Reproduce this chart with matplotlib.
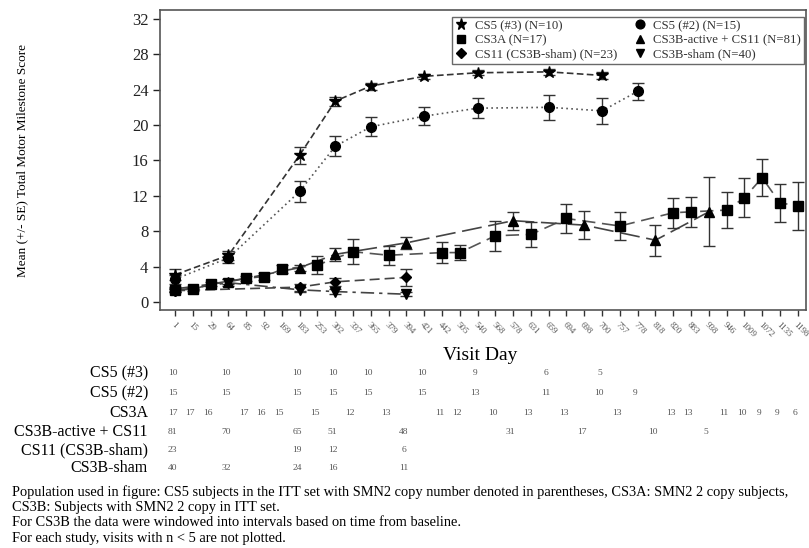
import numpy as np
import matplotlib
matplotlib.use("Agg")
import matplotlib.pyplot as plt
from matplotlib.lines import Line2D

plt.rcParams['font.family'] = ['Liberation Serif', 'DejaVu Serif']

visit_days = [1, 15, 29, 64, 85, 92, 169, 183, 253, 302, 337, 365, 379, 394, 421,
              442, 505, 540, 568, 578, 631, 659, 694, 698, 700, 757, 778, 818, 820,
              883, 938, 946, 1009, 1072, 1135, 1198]

# CS5 (#3)
cs5_3_days = [1, 64, 183, 302, 365, 421, 540, 659, 700]
cs5_3_mean = [3.1, 5.3, 16.6, 22.7, 24.4, 25.5, 25.9, 26.0, 25.6]
cs5_3_se = [0.6, 0.5, 0.95, 0.5, 0.4, 0.3, 0.3, 0.3, 0.4]
cs5_3_n = [10, 10, 10, 10, 10, 10, 9, 6, 5]

# CS5 (#2)
cs5_2_days = [1, 64, 183, 302, 365, 421, 540, 659, 700, 778]
cs5_2_mean = [2.6, 5.0, 12.5, 17.6, 19.8, 21.0, 21.9, 22.0, 21.6, 23.8]
cs5_2_se = [0.5, 0.55, 1.15, 1.15, 1.05, 1.0, 1.15, 1.4, 1.5, 1.0]
cs5_2_n = [15, 15, 15, 15, 15, 15, 13, 11, 10, 9]

# CS3A
cs3a_days = [1, 15, 29, 85, 92, 169, 253, 337, 379, 442, 505, 568, 631, 694,
             757, 820, 883, 946, 1009, 1072, 1135, 1198]
cs3a_mean = [1.4, 1.45, 2.05, 2.7, 2.9, 3.7, 4.2, 5.7, 5.3, 5.6, 5.6, 7.5, 7.65,
             9.45, 8.6, 10.1, 10.2, 10.4, 11.8, 14.05, 11.2, 10.9]
cs3a_se = [0.2, 0.2, 0.25, 0.3, 0.4, 0.45, 1.05, 1.4, 1.05, 1.2, 0.85, 1.7, 1.45,
           1.6, 1.6, 1.7, 1.7, 2.0, 2.2, 2.1, 2.1, 2.7]
cs3a_n = [17, 17, 16, 17, 16, 15, 15, 12, 13, 11, 12, 10, 13, 13, 13, 13, 13, 11,
          10, 9, 9, 6]

# CS3B-active + CS11
cs3b_act_days = [1, 64, 183, 302, 394, 578, 698, 818, 938]
cs3b_act_mean = [1.5, 2.3, 3.9, 5.4, 6.7, 9.2, 8.7, 7.0, 10.2]
cs3b_act_se = [0.2, 0.3, 0.35, 0.7, 0.7, 1.0, 1.6, 1.75, 3.9]
cs3b_act_n = [81, 70, 65, 51, 48, 31, 17, 10, 5]

# CS11 (CS3B-sham)
cs11_days = [1, 183, 302, 394]
cs11_mean = [1.3, 1.7, 2.3, 2.8]
cs11_se = [0.2, 0.4, 0.45, 1.0]
cs11_n = [23, 19, 12, 6]

# CS3B-sham
cs3b_sham_days = [1, 64, 183, 302, 394]
cs3b_sham_mean = [1.3, 2.2, 1.4, 1.2, 0.9]
cs3b_sham_se = [0.2, 0.4, 0.3, 0.3, 0.2]
cs3b_sham_n = [40, 32, 24, 16, 11]

series = [
    ("CS5 (#3)", "CS5 (#3) (N=10)", cs5_3_days, cs5_3_mean, cs5_3_se, cs5_3_n, '*', 9, (0, (4, 2)), '#333333'),
    ("CS5 (#2)", "CS5 (#2) (N=15)", cs5_2_days, cs5_2_mean, cs5_2_se, cs5_2_n, 'o', 7, (0, (1, 2)), '#555555'),
    ("CS3A", "CS3A (N=17)", cs3a_days, cs3a_mean, cs3a_se, cs3a_n, 's', 7, (0, (8, 4)), '#555555'),
    ("CS3B-active + CS11", "CS3B-active + CS11 (N=81)", cs3b_act_days, cs3b_act_mean, cs3b_act_se, cs3b_act_n, '^', 6.5, (0, (12, 4)), '#444444'),
    ("CS11 (CS3B-sham)", "CS11 (CS3B-sham) (N=23)", cs11_days, cs11_mean, cs11_se, cs11_n, 'D', 5.5, (0, (6, 3)), '#444444'),
    ("CS3B-sham", "CS3B-sham (N=40)", cs3b_sham_days, cs3b_sham_mean, cs3b_sham_se, cs3b_sham_n, 'v', 6.5, (0, (8, 3, 2, 3)), '#444444'),
]

fig = plt.figure(figsize=(8.09, 5.48), dpi=100)
ax = fig.add_axes([0.198, 0.434, 0.798, 0.548])

handles = {}
for name, lab, days, mean, se, n, mk, ms, ls, col in series:
    xi = [visit_days.index(d) for d in days]
    ax.plot(xi, mean, linestyle=ls, color=col, lw=1.2, zorder=2)
    ax.errorbar(xi, mean, yerr=se, fmt='none', ecolor='#333333', elinewidth=1.0,
                capsize=4.5, capthick=1.0, zorder=3)
    ax.plot(xi, mean, linestyle='none', marker=mk, ms=ms, color='black', zorder=4)
    handles[lab] = Line2D([], [], linestyle='none', marker=mk, ms=ms * 0.9, color='black')

ax.set_xlim(-0.84, 35.45)
ax.set_ylim(-0.9, 33.0)
ax.set_yticks(np.arange(0, 33, 4))
ax.set_xticks(np.arange(len(visit_days)))
ax.set_xticklabels([str(d) for d in visit_days], rotation=-45, ha='left',
                   rotation_mode='anchor', fontsize=6.5, color='#555555')
ax.tick_params(axis='y', labelsize=12, length=5, width=1, colors='#222222')
ax.tick_params(axis='x', length=4, width=1, colors='#333333', labelcolor='#555555')
for s in ax.spines.values():
    s.set_color('#555555')
    s.set_linewidth(1.2)
ax.set_ylabel("Mean (+/- SE) Total Motor Milestone Score", fontsize=9.5)
ax.yaxis.set_label_coords(-0.205, 0.5)

order = ["CS5 (#3) (N=10)", "CS3A (N=17)", "CS11 (CS3B-sham) (N=23)",
         "CS5 (#2) (N=15)", "CS3B-active + CS11 (N=81)", "CS3B-sham (N=40)"]
leg = ax.legend([handles[k] for k in order], order, ncol=2, loc='upper right',
                bbox_to_anchor=(0.9975, 0.977), borderaxespad=0, fontsize=9.2,
                frameon=True, fancybox=False, edgecolor='#444444', handlelength=1.0,
                handletextpad=0.55, columnspacing=1.3, labelspacing=0.18,
                borderpad=0.25, labelcolor='#333333')
leg.get_frame().set_linewidth(1.0)

fig.text(480 / 809, 1 - 355 / 548, "Visit Day", fontsize=14, ha='center', va='center')

# table of N below the axis
row_y = [373, 393, 413, 432, 450, 468]
for (name, lab, days, mean, se, n, mk, ms, ls, col), yp in zip(series, row_y):
    yf = 1 - yp / 548
    fig.text(148 / 809, yf, name, fontsize=11.5, ha='right', va='center')
    for d, cnt in zip(days, n):
        xd = ax.transData.transform((visit_days.index(d) - 0.15, 0))[0]
        xf = fig.transFigure.inverted().transform((xd, 0))[0]
        fig.text(xf, yf, str(cnt), fontsize=6.8, ha='center', va='center', color='#555555')

notes = ["Population used in figure: CS5 subjects in the ITT set with SMN2 copy number denoted in parentheses, CS3A: SMN2 2 copy subjects,",
         "CS3B: Subjects with SMN2 2 copy in ITT set.",
         "For CS3B the data were windowed into intervals based on time from baseline.",
         "For each study, visits with n < 5 are not plotted."]
for i, t in enumerate(notes):
    fig.text(12 / 809, 1 - (492 + i * 15.5) / 548, t, fontsize=10.4, ha='left', va='center')

fig.savefig("out.png", dpi=100)
